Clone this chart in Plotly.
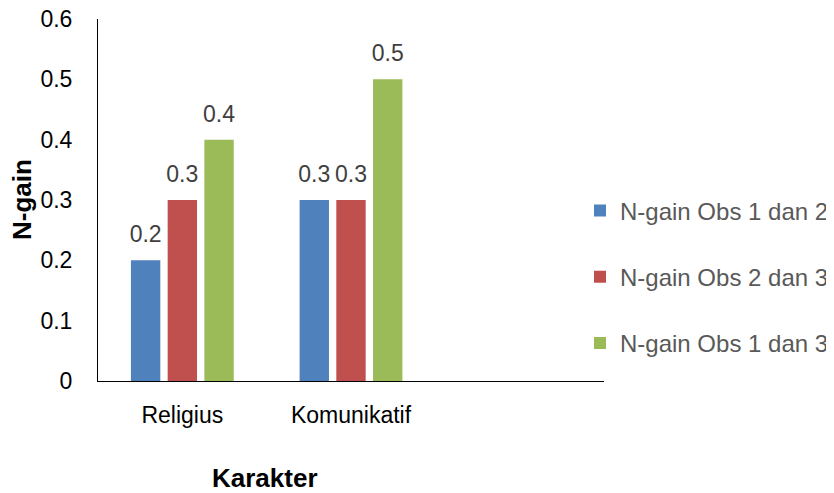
import plotly.graph_objects as go

# ── Data ──────────────────────────────────────────────────────────────────────
categories = ["Religius", "Komunikatif"]
series_names = ["N-gain Obs 1 dan 2", "N-gain Obs 2 dan 3", "N-gain Obs 1 dan 3"]
obs_1_2 = [0.2, 0.3]
obs_2_3 = [0.3, 0.3]
obs_1_3 = [0.4, 0.5]
y_ticks = [0, 0.1, 0.2, 0.3, 0.4, 0.5, 0.6]

_COLORS = ["#4F81BD", "#C0504D", "#9BBB59"]
_FONT = "Arial, Liberation Sans, sans-serif"
_BARGAP = 0.347

# page body adds an 8px offset, so layout is drawn 8px up/left
_OFF = 8
_W, _H = 834, 493
_L, _T = 98 - _OFF, 19 - _OFF
_R = _W - (604 - _OFF)
_B = _H - (381 - _OFF)

x_pos = list(range(len(categories)))
all_series = [obs_1_2, obs_2_3, obs_1_3]

fig = go.Figure()
for i, (name, vals) in enumerate(zip(series_names, all_series)):
    fig.add_trace(
        go.Bar(
            x=x_pos,
            y=vals,
            name=name,
            legendgroup=name,
            marker=dict(color=_COLORS[i], line=dict(width=0)),
        )
    )

# value labels: grouped scatter text so they sit over their bars
for i, (name, vals) in enumerate(zip(series_names, all_series)):
    fig.add_trace(
        go.Scatter(
            x=x_pos,
            y=vals,
            mode="markers+text",
            text=[f"{v:g}" for v in vals],
            textposition="top center",
            marker=dict(size=18, opacity=0),
            textfont=dict(family=_FONT, size=23, color="#404040"),
            showlegend=False,
            hoverinfo="skip",
            cliponaxis=False,
        )
    )


def _px_to_paper(px_x, px_y):
    """Reference pixel position (top-left origin) -> paper coords."""
    px_x -= _OFF
    px_y -= _OFF
    return (px_x - _L) / (_W - _L - _R), (_H - _B - px_y) / (_H - _T - _B)


lx, ly = _px_to_paper(580, 277)
yt_x, yt_y = _px_to_paper(22, 200)
xt_x, xt_y = _px_to_paper(265, 478)

fig.update_layout(
    width=_W,
    height=_H,
    paper_bgcolor="white",
    plot_bgcolor="white",
    font=dict(family=_FONT, size=23, color="#000000"),
    margin=dict(l=_L, r=_R, t=_T, b=_B, autoexpand=False),
    barmode="group",
    bargap=_BARGAP,
    bargroupgap=0.2,
    scattermode="group",
    scattergap=_BARGAP,
    showlegend=True,
    legend=dict(
        x=lx,
        xanchor="left",
        y=ly,
        yanchor="middle",
        traceorder="grouped",
        tracegroupgap=32,
        font=dict(family=_FONT, size=24, color="#595959"),
        itemwidth=30,
        bgcolor="rgba(0,0,0,0)",
    ),
    xaxis=dict(
        range=[-0.5, 2.5],
        tickvals=x_pos,
        ticktext=categories,
        showline=True,
        linecolor="black",
        linewidth=1,
        showgrid=False,
        zeroline=False,
        ticks="",
        ticklabelstandoff=13,
        ticklabeloverflow="allow",
        tickfont=dict(size=23, color="#000000"),
    ),
    yaxis=dict(
        range=[0, 0.6],
        tickvals=y_ticks,
        ticktext=[f"{t:g}" for t in y_ticks],
        showline=True,
        linecolor="black",
        linewidth=1,
        showgrid=False,
        zeroline=False,
        ticks="",
        ticklabelstandoff=20,
        ticklabeloverflow="allow",
        tickfont=dict(size=23, color="#000000"),
    ),
    annotations=[
        dict(
            text="<b>N-gain</b>",
            x=yt_x, y=yt_y, xref="paper", yref="paper",
            xanchor="center", yanchor="middle",
            showarrow=False, textangle=-90,
            font=dict(size=26, color="#000000"),
        ),
        dict(
            text="<b>Karakter</b>",
            x=xt_x, y=xt_y, xref="paper", yref="paper",
            xanchor="center", yanchor="middle",
            showarrow=False,
            font=dict(size=26, color="#000000"),
        ),
    ],
)

fig.write_html("out.html")
